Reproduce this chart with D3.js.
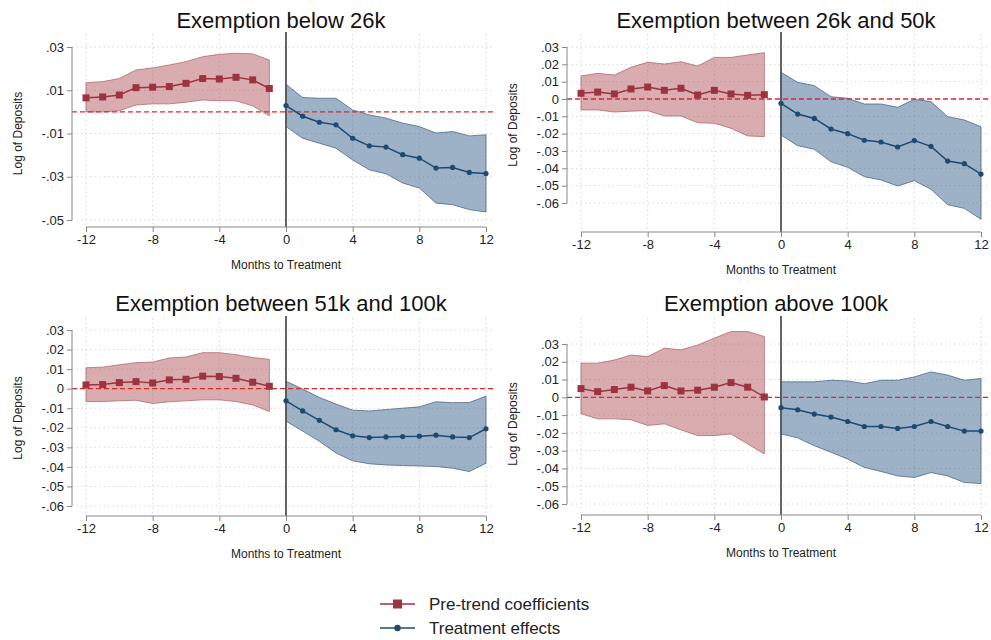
<!DOCTYPE html>
<html><head><meta charset="utf-8">
<script src="https://cdn.jsdelivr.net/npm/d3@7"></script>
<style>body{margin:0;background:#fff}svg{font-family:Arial,"Liberation Sans",sans-serif}</style>
</head><body><svg id="c" width="991" height="640"></svg>
<script>
const titles = ["Exemption below 26k","Exemption between 26k and 50k","Exemption between 51k and 100k","Exemption above 100k"];
const preMonths = d3.range(-12,0);
const postMonths = d3.range(0,13);
const xTicks = [-12,-8,-4,0,4,8,12];
const yTicks1 = [0.03,0.01,-0.01,-0.03,-0.05];
const yTicks2 = [0.03,0.02,0.01,0,-0.01,-0.02,-0.03,-0.04,-0.05,-0.06];

const pre = [
 [.0065,.0069,.0078,.0112,.0114,.0117,.0132,.0154,.0152,.016,.0148,.0108],
 [.0033,.004,.0029,.0058,.0069,.005,.0062,.0023,.005,.0029,.0021,.0025],
 [.0019,.0021,.0031,.0036,.0029,.0045,.0048,.0064,.0062,.0053,.0033,.0012],
 [.0049,.0032,.0044,.0057,.0036,.0066,.0036,.004,.0057,.0083,.0057,.0002]];
const preHi = [
 [.0135,.014,.0154,.0194,.0203,.0217,.0232,.0255,.0266,.0271,.0268,.024],
 [.0133,.0148,.0138,.0183,.0212,.0202,.0215,.019,.024,.024,.0254,.0267],
 [.0107,.011,.0122,.0133,.0136,.0157,.0162,.0184,.0184,.0174,.0159,.015],
 [.0192,.0192,.021,.0238,.0229,.0276,.0267,.0294,.0333,.037,.037,.0342]];
const preLo = [
 [0,0,.0005,.0032,.0037,.0037,.0045,.0055,.0052,.0051,.0028,-.0018],
 [-.0063,-.0063,-.0075,-.007,-.0067,-.0098,-.0098,-.0137,-.014,-.0169,-.0213,-.0217],
 [-.0066,-.0066,-.0062,-.0059,-.0076,-.0067,-.0062,-.0057,-.0057,-.0066,-.0083,-.0117],
 [-.0092,-.0121,-.0121,-.0126,-.0158,-.0149,-.0183,-.0215,-.0215,-.0206,-.0262,-.0319]];
const post = [
 [.0029,-.002,-.0048,-.006,-.0122,-.0157,-.0163,-.0198,-.0214,-.026,-.0257,-.028,-.0285],
 [-.0025,-.0087,-.0112,-.0173,-.02,-.0238,-.0248,-.0277,-.024,-.0273,-.0358,-.0373,-.0433],
 [-.0062,-.0114,-.0162,-.021,-.0241,-.025,-.0247,-.0245,-.0243,-.0238,-.0247,-.025,-.0205],
 [-.0058,-.007,-.0094,-.0111,-.0136,-.0164,-.0164,-.0175,-.0164,-.0136,-.0164,-.019,-.019]];
const postHi = [
 [.0128,.0066,.0063,.0063,.0009,-.0014,-.0029,-.0052,-.0068,-.0098,-.0091,-.0111,-.0106],
 [.0154,.0096,.0077,.0013,.0004,-.0029,-.0029,-.0048,-.0002,-.0015,-.0102,-.0121,-.016],
 [.0038,-.0002,-.0045,-.0079,-.011,-.0114,-.0107,-.01,-.0093,-.0067,-.0072,-.0071,-.0038],
 [.0087,.0087,.0087,.0096,.0092,.0077,.0096,.0096,.0115,.0143,.0125,.0096,.0106]];
const postLo = [
 [-.0068,-.0122,-.0145,-.0168,-.0222,-.0268,-.0286,-.0329,-.0352,-.0422,-.0429,-.0452,-.0463],
 [-.0208,-.0269,-.029,-.0362,-.0394,-.0448,-.0467,-.0502,-.0471,-.0521,-.061,-.0631,-.0694],
 [-.0166,-.0217,-.0269,-.0329,-.0369,-.0384,-.039,-.0393,-.0395,-.0398,-.0407,-.0424,-.0381],
 [-.0206,-.0228,-.0272,-.0309,-.0347,-.0394,-.0417,-.0442,-.0451,-.0423,-.0442,-.0479,-.0485]];
const legendLabels = ["Pre-trend coefficients","Treatment effects"];

const RED="#9e3340", REDF="rgba(170,70,80,0.45)", BLUE="#1f4a70", BLUEF="rgba(40,85,130,0.45)";
const svg = d3.select("#c");
const layout = [
 {ox:0, yTop:.03,yBot:-.05,pTop:47,pBot:220,axisY:227,top:34,ticks:yTicks1,titleY:28},
 {ox:495,yTop:.03,yBot:-.06,pTop:47,pBot:203,axisY:232,top:34,ticks:yTicks2,titleY:28},
 {ox:0, yTop:.03,yBot:-.06,pTop:330,pBot:506,axisY:516,top:318,ticks:yTicks2,titleY:311},
 {ox:495,yTop:.03,yBot:-.06,pTop:344,pBot:504,axisY:515,top:318,ticks:yTicks2,titleY:311}];
const fmt = v => v===0?"0":(v<0?"-":"")+Math.abs(v).toFixed(2).replace(/^0/,"");

layout.forEach((L,i)=>{
  const g = svg.append("g").attr("transform",`translate(${L.ox},0)`);
  const x = d3.scaleLinear().domain([-12,12]).range([86,486]);
  const y = d3.scaleLinear().domain([L.yTop,L.yBot]).range([L.pTop,L.pBot]);
  const ax = 72, right = 494;
  g.selectAll(".gy").data(L.ticks).join("line").attr("x1",ax).attr("x2",right)
   .attr("y1",d=>y(d)).attr("y2",d=>y(d)).attr("stroke","#d8d8d8").attr("stroke-dasharray","1.5,3");
  g.selectAll(".gx").data(xTicks).join("line").attr("x1",d=>x(d)).attr("x2",d=>x(d))
   .attr("y1",L.top).attr("y2",L.axisY).attr("stroke","#d8d8d8").attr("stroke-dasharray","1.5,3");
  const area = d3.area().x(d=>x(d.m)).y0(d=>y(d.lo)).y1(d=>y(d.hi));
  const pd = preMonths.map((m,k)=>({m,v:pre[i][k],hi:preHi[i][k],lo:preLo[i][k]}));
  const qd = postMonths.map((m,k)=>({m,v:post[i][k],hi:postHi[i][k],lo:postLo[i][k]}));
  g.append("path").attr("d",area(pd)).attr("fill",REDF).attr("stroke","#b06a70").attr("stroke-width",0.8);
  g.append("path").attr("d",area(qd)).attr("fill",BLUEF).attr("stroke","#4a6a88").attr("stroke-width",0.8);
  g.append("line").attr("x1",ax).attr("x2",right).attr("y1",y(0)).attr("y2",y(0))
   .attr("stroke","#e0282c").attr("stroke-width",1.3).attr("stroke-dasharray","5,3");
  g.append("line").attr("x1",x(0)).attr("x2",x(0)).attr("y1",L.top-2).attr("y2",L.axisY)
   .attr("stroke","#555").attr("stroke-width",1.8);
  const line = d3.line().x(d=>x(d.m)).y(d=>y(d.v));
  g.append("path").attr("d",line(pd)).attr("fill","none").attr("stroke",RED).attr("stroke-width",1.5);
  g.selectAll(".sq").data(pd).join("rect").attr("x",d=>x(d.m)-3.5).attr("y",d=>y(d.v)-3.5)
   .attr("width",7).attr("height",7).attr("fill",RED);
  g.append("path").attr("d",line(qd)).attr("fill","none").attr("stroke",BLUE).attr("stroke-width",1.5);
  g.selectAll(".ci").data(qd).join("circle").attr("cx",d=>x(d.m)).attr("cy",d=>y(d.v)).attr("r",2.6).attr("fill",BLUE);
  const ya = g.append("g").attr("transform",`translate(${ax},0)`)
   .call(d3.axisLeft(y).tickValues(L.ticks).tickFormat(fmt).tickSize(5).tickSizeOuter(0));
  const xa = g.append("g").attr("transform",`translate(0,${L.axisY})`)
   .call(d3.axisBottom(x).tickValues(xTicks).tickFormat(d=>String(d)).tickSize(5).tickSizeOuter(0));
  [ya,xa].forEach(a=>{a.selectAll("path,line").attr("stroke","#888");a.selectAll("text").attr("font-size",13).attr("fill","#222");});
  ya.select(".domain").attr("d",`M-0,${y(L.ticks[0])}V${y(L.ticks[L.ticks.length-1])}`);
  xa.select(".domain").attr("d",`M${x(-12)},0H${x(12)}`);
  g.append("text").attr("x",281).attr("y",L.titleY).attr("text-anchor","middle").attr("font-size",22).attr("fill","#111").text(titles[i]);
  g.append("text").attr("x",286).attr("y",L.axisY+42).attr("text-anchor","middle").attr("font-size",12).attr("fill","#222").text("Months to Treatment");
  g.append("text").attr("transform",`translate(22,${(L.pTop+L.pBot)/2}) rotate(-90)`).attr("text-anchor","middle")
   .attr("font-size",12).attr("fill","#222").text("Log of Deposits");
});
const lg = svg.append("g");
[[RED,"sq"],[BLUE,"ci"]].forEach(([c,t],k)=>{
  const yy = 604+k*24;
  lg.append("line").attr("x1",380).attr("x2",415).attr("y1",yy).attr("y2",yy).attr("stroke",c).attr("stroke-width",1.5);
  if(t==="sq") lg.append("rect").attr("x",393).attr("y",yy-4.5).attr("width",9).attr("height",9).attr("fill",c);
  else lg.append("circle").attr("cx",397.5).attr("cy",yy).attr("r",3.2).attr("fill",c);
  lg.append("text").attr("x",429).attr("y",yy+6).attr("font-size",17).attr("fill","#222").text(legendLabels[k]);
});
</script></body></html>
